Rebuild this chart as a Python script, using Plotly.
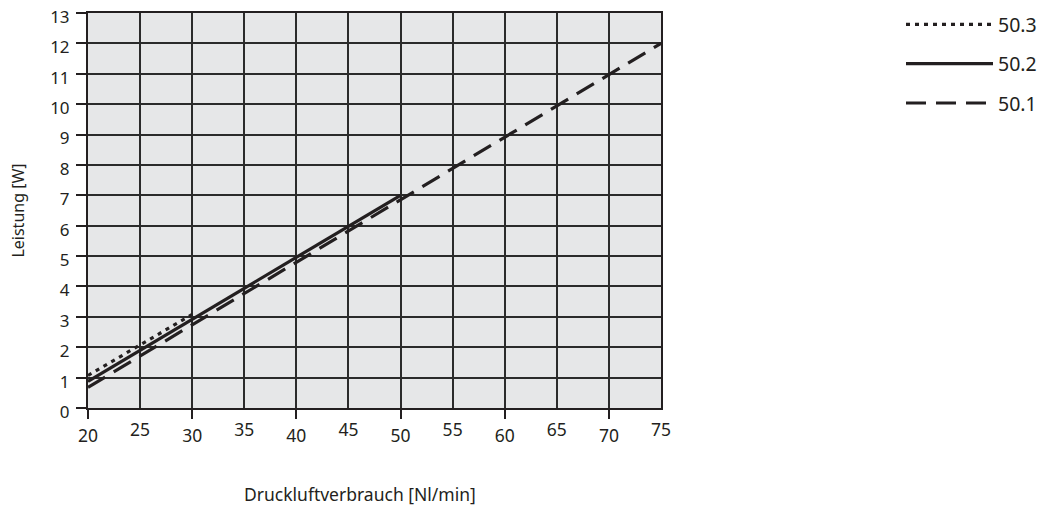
import plotly.graph_objects as go

# Data
x_503 = [20, 30]
y_503 = [1.07, 3.08]
x_502 = [20, 50]
y_502 = [0.88, 7.0]
x_501 = [20, 75]
y_501 = [0.68, 12.0]

x_ticks_low = [20, 30, 40, 50, 60, 70]
x_ticks_high = [25, 35, 45, 55, 65, 75]
y_ticks = list(range(0, 14))

INK = "#231f20"
FONT = "Noto Sans"

fig = go.Figure()
fig.add_trace(go.Scatter(x=x_503, y=y_503, mode="lines", name="50.3", legendgroup="a",
                         line=dict(color=INK, width=3.2, dash="4px,5px")))
fig.add_trace(go.Scatter(x=x_502, y=y_502, mode="lines", name="50.2", legendgroup="b",
                         line=dict(color=INK, width=3.2)))
fig.add_trace(go.Scatter(x=x_501, y=y_501, mode="lines", name="50.1", legendgroup="c",
                         line=dict(color=INK, width=3.2, dash="20px,10px")))
# invisible trace to activate overlaying x axis
fig.add_trace(go.Scatter(x=[20, 75], y=[0, 0], xaxis="x2", mode="lines",
                         line=dict(width=0), showlegend=False, hoverinfo="skip"))

fig.update_layout(
    width=1060, height=509,
    margin=dict(l=88, r=399, t=13, b=101, autoexpand=False),
    paper_bgcolor="white",
    plot_bgcolor="#e6e7e8",
    font=dict(family=FONT, size=17, color=INK),
    showlegend=True,
    legend=dict(x=(901 - 88) / 573, xanchor="left", y=1.02, yanchor="top",
                font=dict(size=19.5, color=INK), itemwidth=87,
                tracegroupgap=11, bgcolor="rgba(0,0,0,0)"),
    xaxis=dict(range=[20, 75], tickvals=x_ticks_low, ticks="outside", ticklen=9,
               tickcolor=INK, tickwidth=1.5, showgrid=True, gridcolor="#2b2b2b",
               gridwidth=1.5, showline=True, linecolor=INK, linewidth=2, mirror=True,
               zeroline=False, ticklabelstandoff=2, tickfont=dict(size=17.5)),
    xaxis2=dict(range=[20, 75], overlaying="x", side="bottom", tickvals=x_ticks_high,
                ticks="", showgrid=True, gridcolor="#2b2b2b", gridwidth=1.5,
                showline=False, zeroline=False, tickfont=dict(size=17.5),
                ticklabelstandoff=9),
    yaxis=dict(range=[0, 13], tickvals=y_ticks, ticks="outside", ticklen=10,
               tickcolor=INK, tickwidth=1.5, showgrid=True, gridcolor="#2b2b2b",
               gridwidth=1.5, showline=True, linecolor=INK, linewidth=2, mirror=True,
               zeroline=False, tickfont=dict(size=17), ticklabelstandoff=3,
               ticklabelshift=4, ticklabeloverflow="allow",
               title=dict(text="Leistung [W]", font=dict(size=16), standoff=22)),
    annotations=[dict(text="Druckluftverbrauch [Nl/min]", xref="paper", yref="paper",
                      x=(360 - 88) / 573, y=-(494 - 408) / 395, xanchor="center",
                      yanchor="middle", showarrow=False, font=dict(size=17.5, color=INK))],
)

fig.write_html("out.html", config={"displayModeBar": False},
               post_script="document.body.style.margin='0';document.body.style.overflow='hidden';")
